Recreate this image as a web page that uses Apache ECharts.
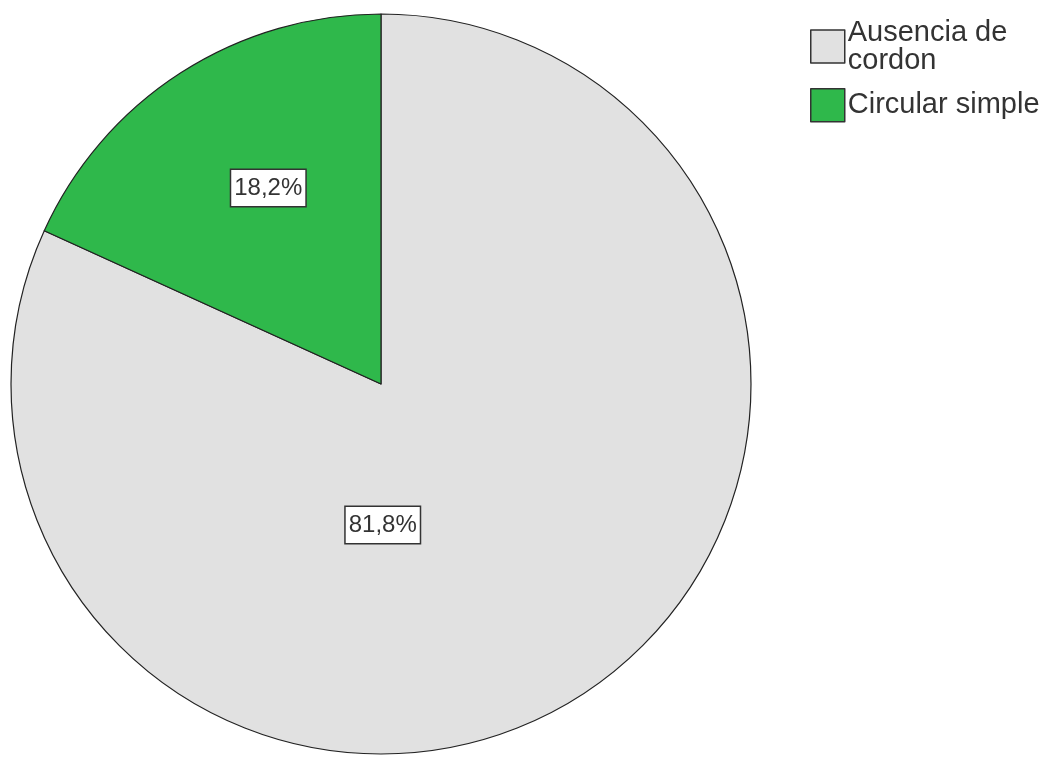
<!DOCTYPE html>
<html>
<head>
<meta charset="utf-8">
<script src="https://cdn.jsdelivr.net/npm/echarts@6/dist/echarts.min.js"></script>
<style>
  html, body { margin: 0; padding: 0; background: #fff; }
  #chart { width: 1054px; height: 757px; }
</style>
</head>
<body>
<div id="chart"></div>
<script>
const categories = ['Ausencia de\ncordon', 'Circular simple'];
const percents = [81.8, 18.2];
const colors = ['#e1e1e1', '#2fb84b'];
// small nudges so labels sit where the original puts them
const labelShift = [[-100, -17], [-11, -38]];

let chart = echarts.init(document.getElementById('chart'));

let option = {
    animation: false,
    legend: {
        orient: 'vertical',
        left: 805,
        top: 13,
        icon: 'rect',
        itemWidth: 34,
        itemHeight: 33,
        itemGap: 13,
        selectedMode: false,
        data: categories,
        textStyle: {
            fontFamily: 'Liberation Sans, Arial, sans-serif',
            fontSize: 29,
            lineHeight: 28,
            color: '#333',
            padding: [0, 0, 0, -2]
        },
        itemStyle: { borderColor: '#333', borderWidth: 1.5 }
    },
    series: [
        {
            type: 'pie',
            center: [381, 384],
            radius: 370,
            startAngle: 90,
            clockwise: true,
            avoidLabelOverlap: false,
            itemStyle: { borderColor: '#222', borderWidth: 1.2 },
            label: {
                show: true,
                position: 'inside',
                formatter: function (p) { return p.value.toFixed(1).replace('.', ',') + '%'; },
                fontFamily: 'Liberation Sans, Arial, sans-serif',
                fontSize: 24,
                lineHeight: 24,
                color: '#333',
                backgroundColor: '#fff',
                borderColor: '#333',
                borderWidth: 1.5,
                padding: [7, 3, 5, 3]
            },
            labelLine: { show: false },
            emphasis: { disabled: true },
            labelLayout: function (params) {
                let s = labelShift[params.dataIndex];
                return { dx: s[0], dy: s[1] };
            },
            data: categories.map(function (name, i) {
                return { name: name, value: percents[i], itemStyle: { color: colors[i] } };
            })
        }
    ]
};
chart.setOption(option);
</script>
</body>
</html>
